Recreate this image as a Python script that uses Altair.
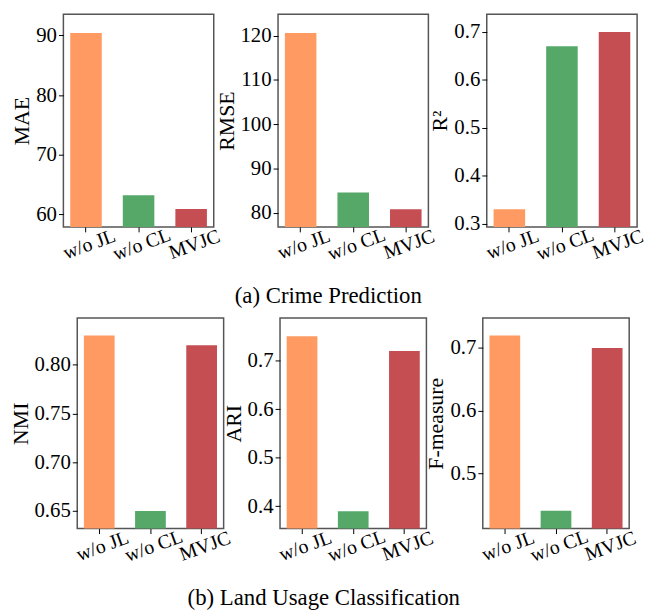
import altair as alt
import pandas as pd

categories = ["w/o JL", "w/o CL", "MVJC"]
colors = ["#FE9A62", "#55A868", "#C44E52"]

mae = [90.4, 63.2, 60.9]
rmse = [120.6, 84.6, 80.8]
r2 = [0.33, 0.67, 0.70]
nmi = [0.83, 0.65, 0.82]
ari = [0.75, 0.39, 0.72]
fmeasure = [0.72, 0.44, 0.70]

mae_ticks = [60, 70, 80, 90]
rmse_ticks = [80, 90, 100, 110, 120]
r2_ticks = [0.3, 0.4, 0.5, 0.6, 0.7]
nmi_ticks = [0.65, 0.70, 0.75, 0.80]
ari_ticks = [0.4, 0.5, 0.6, 0.7]
f_ticks = [0.5, 0.6, 0.7]

FONT = "Liberation Serif"


def panel(values, title, domain, ticks, fmt, width, height):
    df = pd.DataFrame({"method": categories, "value": values})
    return alt.Chart(df).mark_bar(clip=True).encode(
        x=alt.X(
            "method:N",
            sort=categories,
            scale=alt.Scale(paddingInner=0.4, paddingOuter=0.13),
            axis=alt.Axis(
                title=None,
                labelAngle=340,
                labelAlign="center",
                labelBaseline="top",
                labelFontSize=20,
                labelPadding=3,
                tickSize=5,
            ),
        ),
        y=alt.Y(
            "value:Q",
            scale=alt.Scale(domain=domain, zero=False, nice=False),
            axis=alt.Axis(
                title=title,
                values=ticks,
                format=fmt,
                labelFontSize=21,
                labelPadding=2,
                tickSize=5,
                titleFontSize=22,
                titlePadding=2,
            ),
        ),
        color=alt.Color(
            "method:N",
            scale=alt.Scale(domain=categories, range=colors),
            legend=None,
        ),
    ).properties(width=width, height=height)


def spacer():
    return alt.Chart(pd.DataFrame({"v": [0]})).mark_point(opacity=0).encode(
        x=alt.value(0), y=alt.value(0)
    ).properties(width=1, height=1, view=alt.ViewBackground(strokeOpacity=0))


def caption(text):
    return alt.TitleParams(
        text,
        orient="bottom",
        anchor="middle",
        font=FONT,
        fontSize=23,
        fontWeight="normal",
        color="black",
        offset=21,
    )


row1 = alt.hconcat(
    spacer(),
    panel(mae, "MAE", [57.9, 93.55], mae_ticks, "d", 152, 215),
    panel(rmse, "RMSE", [76.8, 124.85], rmse_ticks, "d", 152, 215),
    panel(r2, "R²", [0.293, 0.737], r2_ticks, ".1f", 152, 215),
    spacing=-10,
    title=caption("(a) Crime Prediction"),
)

row2 = alt.hconcat(
    spacer(),
    panel(nmi, "NMI", [0.632, 0.848], nmi_ticks, ".2f", 148, 213),
    panel(ari, "ARI", [0.354, 0.788], ari_ticks, ".1f", 148, 213),
    panel(fmeasure, "F-measure", [0.4116, 0.748], f_ticks, ".1f", 148, 213),
    spacing=-12,
    title=caption("(b) Land Usage Classification"),
)

chart = alt.vconcat(row1, row2, spacing=7).properties(
    padding={"left": 0, "top": 0, "right": 0, "bottom": 0},
    background="white",
).configure_view(
    stroke="#555555", strokeWidth=1.5
).configure_axis(
    labelFont=FONT,
    titleFont=FONT,
    titleFontWeight="normal",
    labelColor="black",
    titleColor="black",
    tickColor="black",
    domain=False,
    grid=False,
)

chart.save("out.html", embed_options={"renderer": "svg", "actions": False})
